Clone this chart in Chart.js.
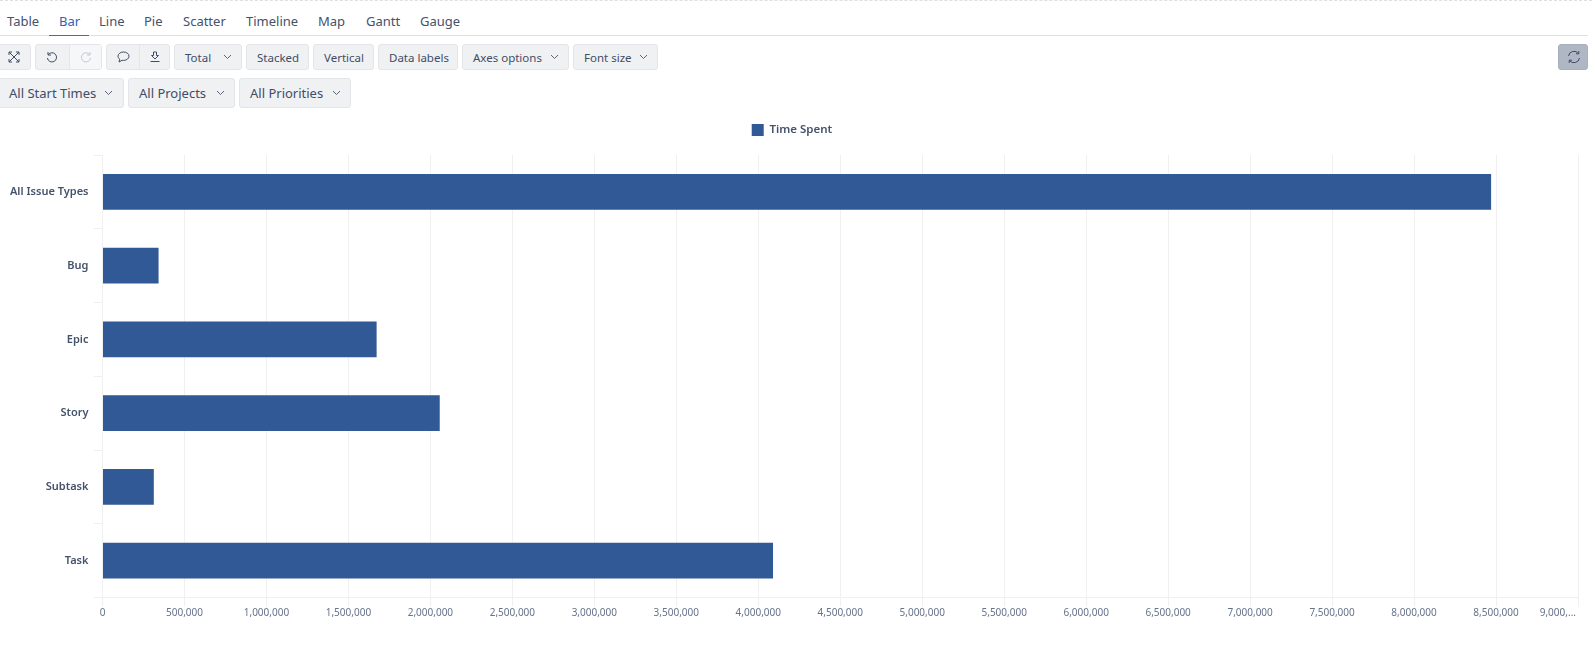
<!DOCTYPE html>
<html>
<head>
<meta charset="utf-8">
<title>Time Spent</title>
<script src="https://cdn.jsdelivr.net/npm/chart.js@4"></script>
<style>
  html, body { margin: 0; padding: 0; background: #fff; overflow: hidden; }
  body { width: 1592px; height: 645px; position: relative; font-family: "Noto Sans", sans-serif; color: #44526b; }
  .topline { position: absolute; left: 0; right: 0; top: 0; border-top: 1px dashed #dcdfe3; }
  .tabline { position: absolute; left: 0; width: 1588px; top: 35px; height: 1px; background: #dfe1e4; }
  .active { position: absolute; left: 49px; width: 40px; top: 35px; height: 1px; background: #2f6fd6; }
  .tab { position: absolute; top: 12px; font-size: 13px; line-height: 18px; }
  .tab.on { color: #2f62b5; }
  .btn { position: absolute; top: 44px; height: 26px; box-sizing: border-box; background: #f0f1f3; border: 1px solid #e3e5e8; border-radius: 3px; font-size: 11.500px; line-height: 26px; white-space: nowrap; color: #3f4d66; }
  .btn.big { top: 78px; height: 30px; line-height: 28px; font-size: 13px; }
  .btn span { position: absolute; top: 0; }
  .btn svg { position: absolute; }
  .sep { position: absolute; top: 0; bottom: 0; width: 1px; background: #e3e5e8; }
  .faded { position: absolute; top: 0; bottom: 0; background: #f6f7f8; }
  .refresh { background: #b0b7c4; border-color: #a9b0bd; }
  #wrap { position: absolute; left: -4px; top: 115px; width: 1592px; height: 530px; }
</style>
</head>
<body>
<div class="topline"></div>
<div class="tab" style="left:7px">Table</div>
<div class="tab on" style="left:59px">Bar</div>
<div class="tab" style="left:99px">Line</div>
<div class="tab" style="left:144px">Pie</div>
<div class="tab" style="left:183px">Scatter</div>
<div class="tab" style="left:246px">Timeline</div>
<div class="tab" style="left:318px">Map</div>
<div class="tab" style="left:366px">Gantt</div>
<div class="tab" style="left:420px">Gauge</div>
<div class="tabline"></div>
<div class="active"></div>

<div class="btn" style="left:-2px;width:33px">
  <svg style="left:9px;top:6px" width="12" height="12" viewBox="0 0 12 12" fill="none" stroke="#3f4d66"><path d="M1 1l10 10M11 1L1 11M1 4V1h3M8 1h3v3M1 8v3h3M8 11h3V8"/></svg>
</div>
<div class="btn" style="left:35px;width:67px">
  <div class="faded" style="left:33px;right:0"></div>
  <div class="sep" style="left:33px"></div>
  <svg style="left:10px;top:6px" width="12" height="12" viewBox="0 0 12 12" fill="none" stroke="#3f4d66"><path d="M2 1v3h3M2 4a4.6 4.6 0 1 1-.6 3"/></svg>
  <svg style="left:44px;top:6px" width="12" height="12" viewBox="0 0 12 12" fill="none" stroke="#c4c8cf"><path d="M10 1v3H7M10 4a4.6 4.6 0 1 0 .6 3"/></svg>
</div>
<div class="btn" style="left:106px;width:64px">
  <div class="sep" style="left:32px"></div>
  <svg style="left:10px;top:6px" width="13" height="12" viewBox="0 0 13 12" fill="none" stroke="#3f4d66"><path d="M6.5 1C3.5 1 1 2.8 1 5.2c0 1.2.7 2.2 1.7 3L2 11l3-1.700c.5.100 1 .100 1.500.100 3 0 5.500-1.800 5.500-4.200S9.500 1 6.500 1z"/></svg>
  <svg style="left:42px;top:6px" width="12" height="12" viewBox="0 0 12 12" fill="none" stroke="#3f4d66"><path d="M4.500 1h3v3.500h2L6 8 2.500 4.500h2zM1.500 10.500h9"/></svg>
</div>
<div class="btn" style="left:174px;width:68px"><span style="left:10px">Total</span>
  <svg style="left:48px;top:9px" width="9" height="6" viewBox="0 0 9 6" fill="none" stroke="#5a6679"><path d="M1 1l3.500 3.500L8 1"/></svg>
</div>
<div class="btn" style="left:246px;width:63px"><span style="left:10px">Stacked</span></div>
<div class="btn" style="left:313px;width:61px"><span style="left:10px">Vertical</span></div>
<div class="btn" style="left:378px;width:80px"><span style="left:10px">Data labels</span></div>
<div class="btn" style="left:462px;width:107px"><span style="left:10px">Axes options</span>
  <svg style="left:87px;top:9px" width="9" height="6" viewBox="0 0 9 6" fill="none" stroke="#5a6679"><path d="M1 1l3.500 3.500L8 1"/></svg>
</div>
<div class="btn" style="left:573px;width:85px"><span style="left:10px">Font size</span>
  <svg style="left:65px;top:9px" width="9" height="6" viewBox="0 0 9 6" fill="none" stroke="#5a6679"><path d="M1 1l3.500 3.500L8 1"/></svg>
</div>
<div class="btn refresh" style="left:1558px;width:30px">
  <svg style="left:8px;top:5px" width="14" height="14" viewBox="0 0 14 14" fill="none" stroke="#3f4d66"><path d="M1.500 6a5.600 5.600 0 0 1 10-2.500M12.500 8a5.600 5.600 0 0 1-10 2.500M11.800 1v2.800H9M2.200 13v-2.800H5"/></svg>
</div>

<div class="btn big" style="left:-2px;width:126px"><span style="left:10px">All Start Times</span>
  <svg style="left:105px;top:11px" width="9" height="6" viewBox="0 0 9 6" fill="none" stroke="#5a6679"><path d="M1 1l3.500 3.500L8 1"/></svg>
</div>
<div class="btn big" style="left:128px;width:107px"><span style="left:10px">All Projects</span>
  <svg style="left:87px;top:11px" width="9" height="6" viewBox="0 0 9 6" fill="none" stroke="#5a6679"><path d="M1 1l3.500 3.500L8 1"/></svg>
</div>
<div class="btn big" style="left:239px;width:112px"><span style="left:10px">All Priorities</span>
  <svg style="left:92px;top:11px" width="9" height="6" viewBox="0 0 9 6" fill="none" stroke="#5a6679"><path d="M1 1l3.500 3.500L8 1"/></svg>
</div>

<div id="wrap"><canvas id="chart"></canvas></div>

<script>
const categories = ["All Issue Types", "Bug", "Epic", "Story", "Subtask", "Task"];
const timeSpent = [8470000, 342000, 1672000, 2057000, 313000, 4090000];
const tickLabels = ["0", "500,000", "1,000,000", "1,500,000", "2,000,000", "2,500,000", "3,000,000", "3,500,000", "4,000,000", "4,500,000", "5,000,000", "5,500,000", "6,000,000", "6,500,000", "7,000,000", "7,500,000", "8,000,000", "8,500,000", "9,000,..."];

const barColor = "#315996";
const gridColor = "#eff0f2";
const fontName = "Noto Sans";

// last x label sits left of its tick in the original, so it is drawn here
const lastTickLabel = {
    id: "lastTickLabel",
    afterDraw(chart) {
        const area = chart.chartArea;
        const ctx = chart.ctx;
        ctx.save();
        ctx.font = `10px "${fontName}"`;
        ctx.fillStyle = "#66738a";
        ctx.textAlign = "right";
        ctx.textBaseline = "middle";
        ctx.fillText(tickLabels[tickLabels.length - 1], area.right - 2, area.bottom + 16);
        ctx.restore();
    }
};

// more room under the legend than labels.padding gives
const legendGap = {
    id: "legendGap",
    beforeInit(chart) {
        const fit = chart.legend.fit;
        chart.legend.fit = function () {
            fit.call(this);
            this.height = 40;
        };
    }
};

new Chart(document.getElementById("chart"), {
    type: "bar",
    data: {
        labels: categories,
        datasets: [{
            label: "Time Spent",
            data: timeSpent,
            backgroundColor: barColor,
            categoryPercentage: 1,
            barPercentage: 0.488
        }]
    },
    options: {
        indexAxis: "y",
        responsive: true,
        maintainAspectRatio: false,
        animation: false,
        plugins: {
            tooltip: { enabled: false },
            legend: {
                position: "top",
                labels: {
                    boxWidth: 12,
                    boxHeight: 12,
                    padding: 9,
                    color: "#44526b",
                    font: { family: fontName, size: 11.5, weight: "600" }
                }
            }
        },
        scales: {
            x: {
                min: 0,
                max: 9000000,
                afterFit(scale) {
                    scale.height = 47.5;
                    scale.paddingRight = 10; // canvas is shifted 4px left so the legend lands where it should
                },
                grid: { color: gridColor, tickColor: gridColor, tickLength: 9 },
                border: { color: gridColor },
                ticks: {
                    stepSize: 500000,
                    autoSkip: false,
                    maxRotation: 0,
                    padding: 1,
                    color: "#66738a",
                    font: { family: fontName, size: 10 },
                    callback: (value, i) => (i < tickLabels.length - 1 ? tickLabels[i] : "")
                }
            },
            y: {
                afterFit(scale) { scale.width = 106.5; },
                grid: { drawOnChartArea: false, color: gridColor, tickColor: gridColor, tickLength: 9 },
                border: { color: gridColor },
                ticks: {
                    padding: 5,
                    color: "#44526b",
                    font: { family: fontName, size: 11, weight: "600" }
                }
            }
        }
    },
    plugins: [lastTickLabel, legendGap]
});
</script>
</body>
</html>
